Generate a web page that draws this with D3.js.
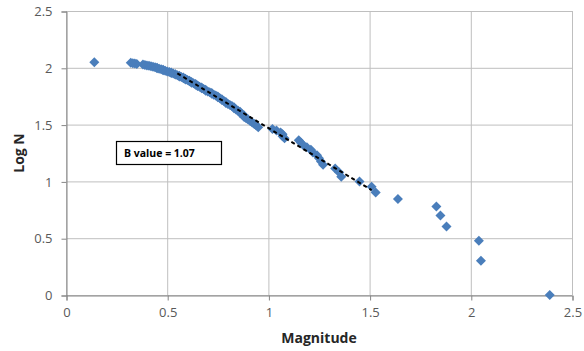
<!DOCTYPE html>
<html><head><meta charset="utf-8">
<script src="https://cdn.jsdelivr.net/npm/d3@7"></script>
<style>body{margin:0;background:#fff}svg{display:block;font-family:"Open Sans","Liberation Sans",sans-serif}</style>
</head><body><svg id="c" width="584" height="351"></svg>
<script>
const magnitude = [2.39,2.05,2.04,1.88,1.85,1.83,1.64,1.53,1.51,1.45,
 1.36,1.35,1.33,1.27,1.26,1.25,1.24,1.22,1.21,1.19,
 1.17,1.16,1.15,1.08,1.07,1.07,1.06,1.04,1.02,0.95,
 0.94,0.93,0.92,0.91,0.90,0.89,0.88,0.88,0.87,0.86,
 0.86,0.85,0.84,0.83,0.83,0.82,0.81,0.80,0.79,0.79,
 0.78,0.77,0.77,0.76,0.75,0.75,0.74,0.73,0.72,0.72,
 0.71,0.70,0.69,0.69,0.68,0.67,0.67,0.66,0.65,0.65,
 0.64,0.64,0.63,0.62,0.62,0.61,0.61,0.60,0.59,0.59,
 0.58,0.58,0.57,0.56,0.56,0.55,0.54,0.54,0.53,0.52,
 0.52,0.51,0.50,0.49,0.48,0.48,0.47,0.46,0.45,0.45,
 0.44,0.43,0.42,0.41,0.40,0.39,0.38,0.35,0.34,0.33,
 0.32,0.14];
const logN = [0,0.301,0.477,0.602,0.699,0.778,0.845,0.903,0.954,1.0,
 1.041,1.079,1.114,1.146,1.176,1.204,1.230,1.255,1.279,1.301,
 1.322,1.342,1.362,1.380,1.398,1.415,1.431,1.447,1.462,1.477,
 1.491,1.505,1.519,1.531,1.544,1.556,1.568,1.580,1.591,1.602,
 1.613,1.623,1.633,1.643,1.653,1.663,1.672,1.681,1.690,1.699,
 1.708,1.716,1.724,1.732,1.740,1.748,1.756,1.763,1.771,1.778,
 1.785,1.792,1.799,1.806,1.813,1.820,1.826,1.833,1.839,1.845,
 1.851,1.857,1.863,1.869,1.875,1.881,1.886,1.892,1.898,1.903,
 1.908,1.914,1.919,1.924,1.929,1.934,1.940,1.944,1.949,1.954,
 1.959,1.964,1.968,1.973,1.978,1.982,1.987,1.991,1.996,2.0,
 2.004,2.009,2.013,2.017,2.021,2.025,2.029,2.033,2.037,2.041,
 2.045,2.049];
const trendX = [0.55, 1.51];
const trendY = [1.951, 0.924];
const xTicks = [0,0.5,1,1.5,2,2.5];
const yTicks = [0,0.5,1,1.5,2,2.5];
const bLabel = "B value = 1.07";

const svg = d3.select("#c");
const L=66,R=572,T=11,B=295;
const x = d3.scaleLinear().domain([0,2.5]).range([L,R]);
const y = d3.scaleLinear().domain([0,2.5]).range([B,T]);
const grid="#bfbfbf";

svg.append("g").selectAll("line").data(yTicks).join("line")
 .attr("x1",L).attr("x2",R).attr("y1",d=>y(d)+0.5).attr("y2",d=>y(d)+0.5)
 .attr("stroke",grid).attr("stroke-width",1);
svg.append("g").selectAll("line").data(xTicks).join("line")
 .attr("y1",T).attr("y2",B).attr("x1",d=>x(d)+0.5).attr("x2",d=>x(d)+0.5)
 .attr("stroke",grid).attr("stroke-width",1);

const xa = svg.append("g").attr("transform",`translate(0.5,${B+0.5})`)
 .call(d3.axisBottom(x).tickValues(xTicks).tickFormat(d3.format("")).tickSize(5).tickPadding(7));
const ya = svg.append("g").attr("transform",`translate(${L+0.5},0.5)`)
 .call(d3.axisLeft(y).tickValues(yTicks).tickFormat(d3.format("")).tickSize(5).tickPadding(9));
[xa,ya].forEach(g=>{
 g.select(".domain").attr("stroke","#868686");
 g.selectAll(".tick line").attr("stroke","#868686");
 g.selectAll(".tick text").attr("fill","#595959").attr("font-size","13px").attr("font-family","'Open Sans',sans-serif");
});

const pts = magnitude.map((m,i)=>({m,v:logN[i]}));
svg.append("g").selectAll("path").data(pts).join("path")
 .attr("transform",d=>`translate(${x(d.m)},${y(d.v)})`)
 .attr("d","M0,-5L5,0L0,5L-5,0Z")
 .attr("fill","#4a7ebb");

svg.append("line")
 .attr("x1",x(trendX[0])).attr("y1",y(trendY[0]))
 .attr("x2",x(trendX[1])).attr("y2",y(trendY[1]))
 .attr("stroke","#000").attr("stroke-width",2).attr("stroke-dasharray","4,3");

svg.append("rect").attr("x",116.5).attr("y",141.5).attr("width",105).attr("height",23)
 .attr("fill","#fff").attr("stroke","#000").attr("stroke-width",1.2);
svg.append("text").attr("x",124).attr("y",157).attr("font-size","10.5px").attr("font-weight","bold")
 .attr("fill","#000").text(bLabel);

svg.append("text").attr("x",(L+R)/2).attr("y",343).attr("text-anchor","middle")
 .attr("font-size","14px").attr("font-weight","bold").attr("fill","#262626").text("Magnitude");
svg.append("text").attr("transform",`translate(24,${(T+B)/2}) rotate(-90)`).attr("text-anchor","middle")
 .attr("font-size","14px").attr("font-weight","bold").attr("fill","#262626").text("Log N");
</script></body></html>
